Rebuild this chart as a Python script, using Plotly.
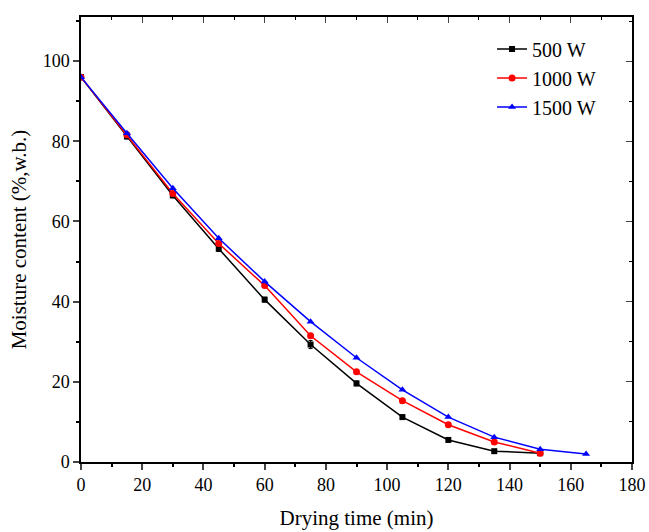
import plotly.graph_objects as go

# drying curves
time_500 = [0, 15, 30, 45, 60, 75, 90, 105, 120, 135, 150]
mc_500 = [96, 81.2, 66.5, 53.2, 40.5, 29.3, 19.6, 11.2, 5.5, 2.7, 2.2]
err_500 = [0.3, 0.6, 0.6, 0.7, 0.6, 1.0, 0.6, 0.5, 0.3, 0.3, 0.2]

time_1000 = [0, 15, 30, 45, 60, 75, 90, 105, 120, 135, 150]
mc_1000 = [96, 81.6, 67.0, 54.5, 44.0, 31.5, 22.5, 15.3, 9.3, 5.0, 2.2]

time_1500 = [0, 15, 30, 45, 60, 75, 90, 105, 120, 135, 150, 165]
mc_1500 = [96, 82.0, 68.3, 55.8, 45.0, 35.0, 26.0, 18.0, 11.2, 6.2, 3.2, 2.0]

font = "Liberation Serif, Times New Roman, serif"

fig = go.Figure()
fig.add_scatter(x=time_500, y=mc_500, name="500 W", mode="lines+markers",
                line=dict(color="black", width=1.5),
                marker=dict(symbol="square", size=6, color="black"),
                error_y=dict(type="data", array=err_500, color="black", thickness=1, width=2))
fig.add_scatter(x=time_1000, y=mc_1000, name="1000 W", mode="lines+markers",
                line=dict(color="red", width=1.5),
                marker=dict(symbol="circle", size=7, color="red"))
fig.add_scatter(x=time_1500, y=mc_1500, name="1500 W", mode="lines+markers",
                line=dict(color="blue", width=1.5),
                marker=dict(symbol="triangle-up", size=7, color="blue"))

# mirror axes with inward ticks (top / right frame)
fig.add_scatter(x=[None], y=[None], xaxis="x2", yaxis="y2", showlegend=False)

fig.update_layout(
    width=649, height=532,
    margin=dict(l=81, r=17, t=17, b=70),
    paper_bgcolor="white", plot_bgcolor="white",
    font=dict(family=font, size=18, color="black"),
    xaxis=dict(range=[0, 180], dtick=20, ticks="outside", ticklen=6, tickwidth=1.5,
               showline=True, linecolor="black", linewidth=1.5, showgrid=False, zeroline=False,
               automargin=False,
               minor=dict(dtick=10, ticks="outside", ticklen=3, tickcolor="black"),
               title=dict(text="Drying time (min)", font=dict(size=21), standoff=16)),
    yaxis=dict(range=[0, 111], dtick=20, ticks="outside", ticklen=6, tickwidth=1.5,
               showline=True, linecolor="black", linewidth=1.5, showgrid=False, zeroline=False,
               automargin=False,
               minor=dict(dtick=10, ticks="outside", ticklen=3, tickcolor="black"),
               title=dict(text="Moisture content (%,w.b.)", font=dict(size=21), standoff=10)),
    xaxis2=dict(overlaying="x", side="top", matches="x", range=[0, 180], dtick=20,
                ticks="inside", ticklen=6, showticklabels=False, showline=True,
                linecolor="black", linewidth=1.5, showgrid=False, zeroline=False,
                minor=dict(dtick=10, ticks="inside", ticklen=3, tickcolor="black")),
    yaxis2=dict(overlaying="y", side="right", range=[0, 111], dtick=20,
                ticks="inside", ticklen=6, showticklabels=False, showline=True,
                linecolor="black", linewidth=1.5, showgrid=False, zeroline=False,
                minor=dict(dtick=10, ticks="inside", ticklen=3, tickcolor="black")),
    legend=dict(x=0.746, y=0.972, xanchor="left", yanchor="top", bgcolor="rgba(0,0,0,0)",
                font=dict(size=20), tracegroupgap=0),
)

# drop the default 8px body margin so the figure sits at the page corner
fig.write_html("out.html", config={"displayModeBar": False},
               post_script="document.body.style.margin='0';")
